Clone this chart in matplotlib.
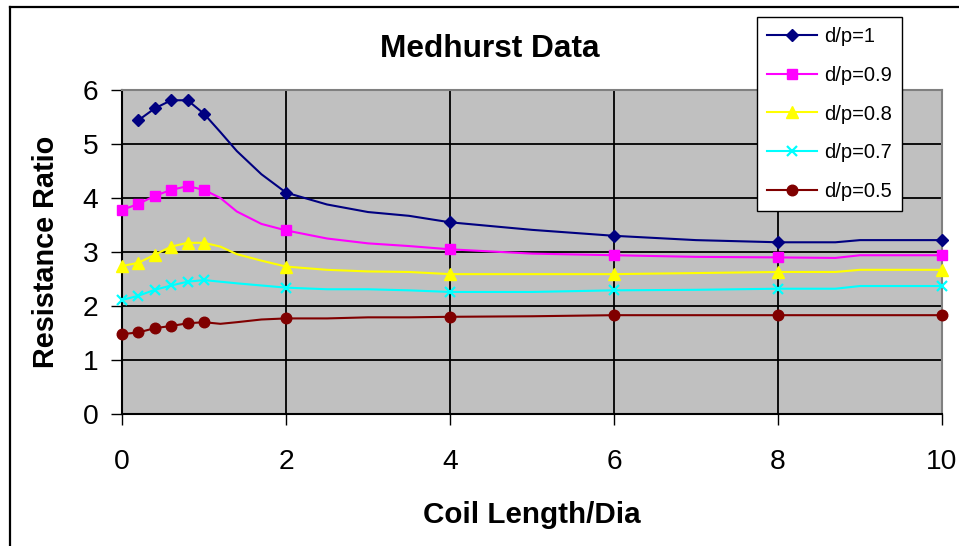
import numpy as np
import matplotlib
matplotlib.use("Agg")
import matplotlib.pyplot as plt
from matplotlib.lines import Line2D

plt.rcParams['font.family'] = ['Liberation Sans', 'DejaVu Sans']

# Coil length / diameter at each vertex of the plotted curves
coil_ld = [0, 0.2, 0.4, 0.6, 0.8, 1.0, 1.2, 1.4, 1.7, 2.0, 2.5, 3.0, 3.5,
           4.0, 5.0, 6.0, 7.0, 8.0, 8.7, 9.0, 10.0]
# Points where measurements are marked
measured_ld = [0, 0.2, 0.4, 0.6, 0.8, 1.0, 2.0, 4.0, 6.0, 8.0, 10.0]

# Resistance ratio for each wire diameter / pitch ratio
dp_1_0 = [np.nan, 5.44, 5.66, 5.81, 5.81, 5.56, 5.22, 4.87, 4.44, 4.10, 3.88,
          3.74, 3.67, 3.55, 3.41, 3.30, 3.22, 3.18, 3.18, 3.22, 3.22]
dp_0_9 = [3.78, 3.89, 4.04, 4.15, 4.22, 4.15, 4.00, 3.75, 3.52, 3.40, 3.25,
          3.16, 3.11, 3.05, 2.97, 2.94, 2.91, 2.90, 2.89, 2.94, 2.94]
dp_0_8 = [2.74, 2.80, 2.95, 3.10, 3.17, 3.17, 3.10, 2.96, 2.84, 2.73, 2.67,
          2.64, 2.63, 2.59, 2.59, 2.59, 2.61, 2.63, 2.63, 2.67, 2.67]
dp_0_7 = [2.11, 2.19, 2.30, 2.38, 2.45, 2.48, 2.45, 2.42, 2.38, 2.34, 2.31,
          2.31, 2.29, 2.26, 2.26, 2.29, 2.30, 2.32, 2.32, 2.37, 2.37]
dp_0_5 = [1.48, 1.51, 1.59, 1.63, 1.68, 1.70, 1.67, 1.70, 1.75, 1.77, 1.77,
          1.79, 1.79, 1.80, 1.81, 1.83, 1.83, 1.83, 1.83, 1.83, 1.83]

series_labels = ['d/p=1', 'd/p=0.9', 'd/p=0.8', 'd/p=0.7', 'd/p=0.5']
x_ticks = [0, 2, 4, 6, 8, 10]
y_ticks = [0, 1, 2, 3, 4, 5, 6]

W, H = 959, 546
fig = plt.figure(figsize=(W / 100, H / 100), dpi=100)
fig.patch.set_facecolor('white')

ax = fig.add_axes([122 / W, 1 - 414 / H, 820 / W, 324 / H])
ax.set_facecolor('#C0C0C0')
ax.set_axisbelow(True)

mark_idx = [coil_ld.index(v) for v in measured_ld]
styles = [
    dict(color='#000080', marker='D', ms=6.2),
    dict(color='#FF00FF', marker='s', ms=7.6),
    dict(color='#FFFF00', marker='^', ms=8.6),
    dict(color='#00FFFF', marker='x', ms=6.5, mew=1.6),
    dict(color='#800000', marker='o', ms=7.6),
]
for vals, lab, st in zip([dp_1_0, dp_0_9, dp_0_8, dp_0_7, dp_0_5],
                         series_labels, styles):
    ax.plot(coil_ld, vals, label=lab, lw=1.5, markevery=mark_idx,
            clip_on=False, zorder=3, **st)

ax.set_xlim(0, 10)
ax.set_ylim(0, 6)
ax.set_xticks(x_ticks)
ax.set_yticks(y_ticks)
ax.set_xticklabels([str(t) for t in x_ticks])
ax.set_yticklabels([str(t) for t in y_ticks])
ax.grid(True, color='black', lw=1.3)
ax.tick_params(axis='both', direction='out', length=8, width=1.0,
               colors='black', labelsize=20.3)
ax.tick_params(axis='y', pad=9)
ax.tick_params(axis='x', pad=17)

for side in ['top', 'right']:
    ax.spines[side].set_color('#808080')
    ax.spines[side].set_linewidth(1.5)
for side in ['left', 'bottom']:
    ax.spines[side].set_color('black')
    ax.spines[side].set_linewidth(1.5)

fig.text(490 / W, 1 - 57 / H, 'Medhurst Data', ha='center', va='baseline',
         fontsize=22.8, fontweight='bold')
fig.text(532 / W, 1 - 523 / H, 'Coil Length/Dia', ha='center', va='baseline',
         fontsize=21.3, fontweight='bold')
fig.text(46.5 / W, 1 - 252 / H, 'Resistance Ratio', ha='center',
         va='center', rotation=90, fontsize=20.8, fontweight='bold')

leg = ax.legend(loc='upper left', bbox_to_anchor=(757 / W, 1 - 17 / H),
                bbox_transform=fig.transFigure, borderaxespad=0,
                fontsize=14.5, frameon=True, fancybox=False, framealpha=1,
                edgecolor='black', handlelength=2.45, handletextpad=0.35,
                borderpad=0.52, labelspacing=0.97, numpoints=1)
leg.get_frame().set_linewidth(1.0)
leg.set_zorder(10)

# Chart area border
fig.add_artist(Line2D([9.5 / W, 1.01], [1 - 7 / H, 1 - 7 / H],
                      transform=fig.transFigure, color='black', lw=1.6))
fig.add_artist(Line2D([9.5 / W, 9.5 / W], [-0.01, 1 - 7 / H],
                      transform=fig.transFigure, color='black', lw=1.6))

fig.savefig('out.png', dpi=100)
